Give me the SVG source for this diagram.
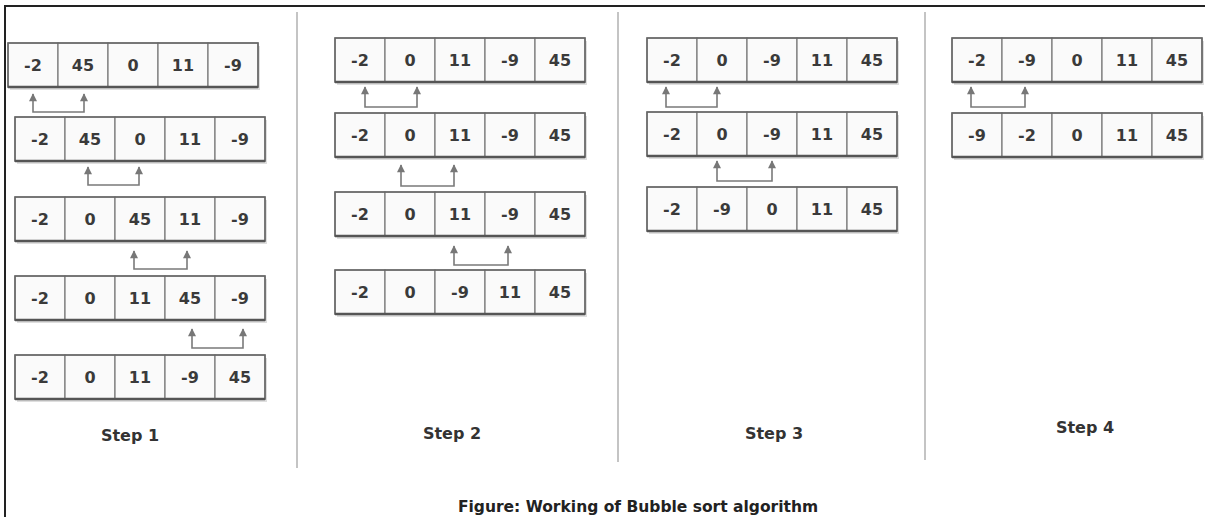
<svg xmlns="http://www.w3.org/2000/svg" width="1205" height="517" viewBox="0 0 1205 517">
<defs>
<style>
.cell{fill:#fafafa;stroke:#777;stroke-width:1.2}
.frame{fill:none;stroke:#666;stroke-width:1.5}
.shadow{fill:#dedede}
.bot{stroke:#555;stroke-width:2.5}
.num{font-family:"DejaVu Sans",Verdana,sans-serif;font-weight:bold;font-size:16px;fill:#3a3a3a;text-anchor:middle}
.lbl{font-family:"DejaVu Sans",Verdana,sans-serif;font-weight:bold;font-size:16px;fill:#333;text-anchor:middle}
.cap{font-family:"DejaVu Sans",Verdana,sans-serif;font-weight:bold;font-size:15.5px;fill:#222;text-anchor:middle}
.conn{fill:none;stroke:#7a7a7a;stroke-width:1.6}
.div{stroke:#c4c4c4;stroke-width:2}
</style>
<marker id="ah" viewBox="0 0 10 10" refX="9" refY="5" markerWidth="9" markerHeight="8" markerUnits="userSpaceOnUse" orient="auto-start-reverse">
<path d="M0,0 L10,5 L0,10 Z" fill="#777"/>
</marker>
<g id="row">
<rect class="shadow" x="2" y="3" width="250" height="44"/>
<rect class="cell" x="0" y="0" width="50" height="44"/>
<rect class="cell" x="50" y="0" width="50" height="44"/>
<rect class="cell" x="100" y="0" width="50" height="44"/>
<rect class="cell" x="150" y="0" width="50" height="44"/>
<rect class="cell" x="200" y="0" width="50" height="44"/>
<rect class="frame" x="0" y="0" width="250" height="44"/>
<line class="bot" x1="0" y1="44" x2="250" y2="44"/>
</g>
</defs>
<rect width="1205" height="517" fill="#fff"/>
<g id="border">
<line x1="5" y1="6" x2="1205" y2="6" stroke="#222" stroke-width="2"/>
<line x1="5" y1="5" x2="5" y2="517" stroke="#222" stroke-width="2"/>
</g>
<g id="dividers">
<line class="div" x1="297" y1="12" x2="297" y2="468"/>
<line class="div" x1="618" y1="12" x2="618" y2="462"/>
<line class="div" x1="925" y1="12" x2="925" y2="460"/>
</g>

<!-- Step 1 -->
<g id="s1r1" transform="translate(8,43)"><use href="#row"/>
<text class="num" x="25" y="28">-2</text><text class="num" x="75" y="28">45</text><text class="num" x="125" y="28">0</text><text class="num" x="175" y="28">11</text><text class="num" x="225" y="28">-9</text></g>
<g id="s1r2" transform="translate(15,117)"><use href="#row"/>
<text class="num" x="25" y="28">-2</text><text class="num" x="75" y="28">45</text><text class="num" x="125" y="28">0</text><text class="num" x="175" y="28">11</text><text class="num" x="225" y="28">-9</text></g>
<g id="s1r3" transform="translate(15,197)"><use href="#row"/>
<text class="num" x="25" y="28">-2</text><text class="num" x="75" y="28">0</text><text class="num" x="125" y="28">45</text><text class="num" x="175" y="28">11</text><text class="num" x="225" y="28">-9</text></g>
<g id="s1r4" transform="translate(15,276)"><use href="#row"/>
<text class="num" x="25" y="28">-2</text><text class="num" x="75" y="28">0</text><text class="num" x="125" y="28">11</text><text class="num" x="175" y="28">45</text><text class="num" x="225" y="28">-9</text></g>
<g id="s1r5" transform="translate(15,355)"><use href="#row"/>
<text class="num" x="25" y="28">-2</text><text class="num" x="75" y="28">0</text><text class="num" x="125" y="28">11</text><text class="num" x="175" y="28">-9</text><text class="num" x="225" y="28">45</text></g>
<g id="s1label"><text class="lbl" x="130" y="441">Step 1</text></g>

<!-- Step 2 -->
<g id="s2r1" transform="translate(335,38)"><use href="#row"/>
<text class="num" x="25" y="28">-2</text><text class="num" x="75" y="28">0</text><text class="num" x="125" y="28">11</text><text class="num" x="175" y="28">-9</text><text class="num" x="225" y="28">45</text></g>
<g id="s2r2" transform="translate(335,113)"><use href="#row"/>
<text class="num" x="25" y="28">-2</text><text class="num" x="75" y="28">0</text><text class="num" x="125" y="28">11</text><text class="num" x="175" y="28">-9</text><text class="num" x="225" y="28">45</text></g>
<g id="s2r3" transform="translate(335,192)"><use href="#row"/>
<text class="num" x="25" y="28">-2</text><text class="num" x="75" y="28">0</text><text class="num" x="125" y="28">11</text><text class="num" x="175" y="28">-9</text><text class="num" x="225" y="28">45</text></g>
<g id="s2r4" transform="translate(335,270)"><use href="#row"/>
<text class="num" x="25" y="28">-2</text><text class="num" x="75" y="28">0</text><text class="num" x="125" y="28">-9</text><text class="num" x="175" y="28">11</text><text class="num" x="225" y="28">45</text></g>
<g id="s2label"><text class="lbl" x="452" y="439">Step 2</text></g>

<!-- Step 3 -->
<g id="s3r1" transform="translate(647,38)"><use href="#row"/>
<text class="num" x="25" y="28">-2</text><text class="num" x="75" y="28">0</text><text class="num" x="125" y="28">-9</text><text class="num" x="175" y="28">11</text><text class="num" x="225" y="28">45</text></g>
<g id="s3r2" transform="translate(647,112)"><use href="#row"/>
<text class="num" x="25" y="28">-2</text><text class="num" x="75" y="28">0</text><text class="num" x="125" y="28">-9</text><text class="num" x="175" y="28">11</text><text class="num" x="225" y="28">45</text></g>
<g id="s3r3" transform="translate(647,187)"><use href="#row"/>
<text class="num" x="25" y="28">-2</text><text class="num" x="75" y="28">-9</text><text class="num" x="125" y="28">0</text><text class="num" x="175" y="28">11</text><text class="num" x="225" y="28">45</text></g>
<g id="s3label"><text class="lbl" x="774" y="439">Step 3</text></g>

<!-- Step 4 -->
<g id="s4r1" transform="translate(952,38)"><use href="#row"/>
<text class="num" x="25" y="28">-2</text><text class="num" x="75" y="28">-9</text><text class="num" x="125" y="28">0</text><text class="num" x="175" y="28">11</text><text class="num" x="225" y="28">45</text></g>
<g id="s4r2" transform="translate(952,113)"><use href="#row"/>
<text class="num" x="25" y="28">-9</text><text class="num" x="75" y="28">-2</text><text class="num" x="125" y="28">0</text><text class="num" x="175" y="28">11</text><text class="num" x="225" y="28">45</text></g>
<g id="s4label"><text class="lbl" x="1085" y="433">Step 4</text></g>

<g id="connectors">
<path class="conn" marker-start="url(#ah)" marker-end="url(#ah)" d="M33,94 V112 H84 V94"/>
<path class="conn" marker-start="url(#ah)" marker-end="url(#ah)" d="M88,167 V185 H139 V167"/>
<path class="conn" marker-start="url(#ah)" marker-end="url(#ah)" d="M134,251 V269 H187 V251"/>
<path class="conn" marker-start="url(#ah)" marker-end="url(#ah)" d="M192,329 V348 H243 V329"/>

<path class="conn" marker-start="url(#ah)" marker-end="url(#ah)" d="M365,87 V107 H417 V87"/>
<path class="conn" marker-start="url(#ah)" marker-end="url(#ah)" d="M401,165 V186 H454 V165"/>
<path class="conn" marker-start="url(#ah)" marker-end="url(#ah)" d="M454,246 V265 H508 V246"/>

<path class="conn" marker-start="url(#ah)" marker-end="url(#ah)" d="M666,87 V107 H717 V87"/>
<path class="conn" marker-start="url(#ah)" marker-end="url(#ah)" d="M717,161 V181 H772 V161"/>

<path class="conn" marker-start="url(#ah)" marker-end="url(#ah)" d="M971,87 V107 H1025 V87"/>
</g>

<g id="caption"><text class="cap" x="638" y="512">Figure: Working of Bubble sort algorithm</text></g>
</svg>
